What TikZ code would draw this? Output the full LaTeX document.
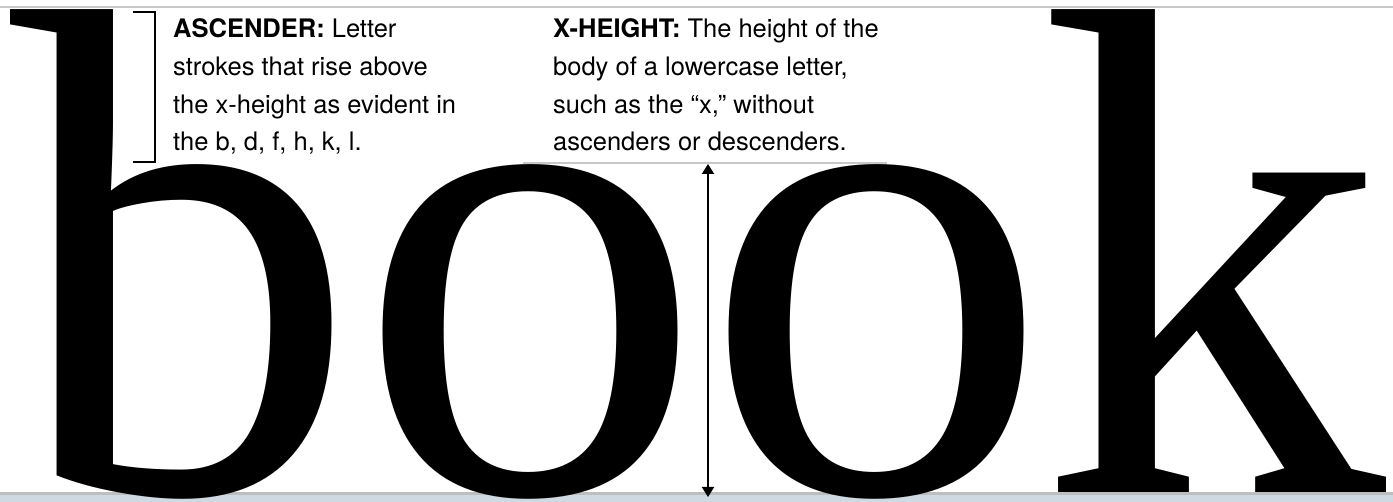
\documentclass[tikz,border=0pt]{standalone}
\usepackage{fontspec}
\setmainfont{Liberation Serif}
\newfontfamily\notefont{TeX Gyre Heros}
\usetikzlibrary{arrows.meta,positioning}
\definecolor{rulegray}{HTML}{C8C8C8}
\definecolor{basegray}{HTML}{BEBEBE}
\definecolor{baseband}{HTML}{CFD9E1}

\begin{document}
\begin{tikzpicture}[x=1pt, y=-1pt,
  note/.style={inner sep=0pt, anchor=base west, align=left, font=\notefont\fontsize{25.5}{37.8}\selectfont},
  measure/.style={line width=2pt, {Triangle[width=12pt,length=10pt]}-{Triangle[width=12pt,length=10pt]}}]
    \useasboundingbox (0,0) rectangle (1393,502);
    % Guide rules
    \fill[baseband] (0,494) rectangle (1393,502);
    \fill[basegray] (0,492) rectangle (1393,495);
    \fill[rulegray] (0,6) rectangle (1393,8);
    % The word
    \node[inner sep=0pt, anchor=base west, font=\fontsize{696}{696}\selectfont] (word) at (10,493) {b\kern-2pt o\kern-2pt o\kern-12pt k};
    % Ascender note
    \node[note] (asc) at (173,151) {\textbf{ASCENDER:} Letter\\strokes that rise above\\the x-height as evident in\\the b, d, f, h, k, l.};
    \draw[line width=2pt] (133,12) -- (155,12) -- (155,162) -- (133,162);
    % X-height note
    \node[note] (xht) at (553,151) {\textbf{X-HEIGHT:} The height of the\\body of a lowercase letter,\\such as the “x,” without\\ascenders or descenders.};
    \coordinate (xl) at (523,163);
    \coordinate (xr) at (887,163);
    \draw[rulegray, line width=2pt] (xl) -- (xr);
    \coordinate (xtop) at (708,164);
    \coordinate (xbase) at (708,497);
    \draw[measure] (xtop) -- (xbase);
  \end{tikzpicture}
\end{document}
